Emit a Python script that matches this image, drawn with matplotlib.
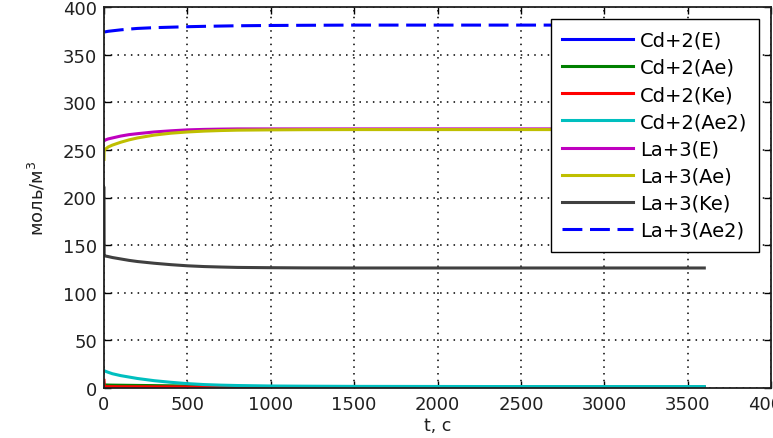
import matplotlib
matplotlib.use("Agg")
import matplotlib.pyplot as plt
import numpy as np

plt.rcParams['font.family'] = ['DejaVu Sans']

# time samples (s)
t = [0, 1, 10, 25, 50, 100, 150, 200, 300, 400, 500, 600, 700, 800, 1000, 1200, 1500, 2000, 2500, 3000, 3600]

cd_E   = [0.3, 0.3, 0.3, 0.3, 0.3, 0.3, 0.3, 0.3, 0.3, 0.3, 0.3, 0.3, 0.3, 0.3, 0.3, 0.3, 0.3, 0.3, 0.3, 0.3, 0.3]
cd_Ae  = [3.5, 3.3, 3.2, 3.1, 3.0, 2.9, 2.8, 2.7, 2.5, 2.3, 2.1, 1.9, 1.7, 1.5, 1.3, 1.1, 1.0, 1.0, 1.0, 1.0, 1.0]
cd_Ke  = [8.0, 1.5, 1.4, 1.4, 1.4, 1.3, 1.3, 1.3, 1.2, 1.2, 1.1, 1.0, 1.0, 0.9, 0.9, 0.8, 0.8, 0.8, 0.8, 0.8, 0.8]
cd_Ae2 = [18.2, 18.0, 17.5, 16.5, 15.0, 13.0, 11.5, 10.0, 7.7, 6.0, 4.6, 3.6, 3.0, 2.6, 2.1, 1.9, 1.7, 1.6, 1.5, 1.5, 1.5]
la_E   = [259.6, 260.0, 260.5, 261.5, 262.5, 264.5, 266.0, 267.0, 268.8, 270.0, 271.0, 271.5, 271.8, 272.0, 272.0, 272.0, 272.0, 272.0, 272.0, 272.0, 272.0]
la_Ae  = [240.0, 249.5, 251.0, 253.0, 255.0, 258.0, 260.5, 262.5, 265.5, 267.5, 268.8, 269.7, 270.3, 270.7, 271.0, 271.2, 271.3, 271.3, 271.3, 271.3, 271.3]
la_Ke  = [210.0, 139.0, 138.5, 138.0, 137.0, 135.5, 134.0, 132.8, 131.0, 129.5, 128.3, 127.5, 127.0, 126.6, 126.3, 126.1, 126.0, 126.0, 126.0, 126.0, 126.0]
la_Ae2 = [373.5, 373.7, 374.0, 374.5, 375.0, 376.0, 376.8, 377.5, 378.3, 378.8, 379.3, 379.7, 380.0, 380.3, 380.6, 380.8, 381.0, 381.0, 381.0, 381.0, 381.0]

labels = ['Cd+2(E)', 'Cd+2(Ae)', 'Cd+2(Ke)', 'Cd+2(Ae2)',
          'La+3(E)', 'La+3(Ae)', 'La+3(Ke)', 'La+3(Ae2)']
series = [cd_E, cd_Ae, cd_Ke, cd_Ae2, la_E, la_Ae, la_Ke, la_Ae2]
colors = ['#0000ff', '#008000', '#ff0000', '#00bfbf',
          '#bf00bf', '#bfbf00', '#404040', '#0000ff']

xticks = [0, 500, 1000, 1500, 2000, 2500, 3000, 3500, 4000]
yticks = [0, 50, 100, 150, 200, 250, 300, 350, 400]

W, H = 773, 439
fig = plt.figure(figsize=(W / 100, H / 100), dpi=100)
ax = fig.add_axes([104 / W, (H - 389) / H, (771 - 104) / W, (389 - 8) / H])

for i, (y, lab, c) in enumerate(zip(series, labels, colors)):
    if lab == 'La+3(Ae2)':
        ax.plot(t, y, color=c, lw=2.2, linestyle=(0, (6.5, 2.5)), label=lab)
    else:
        ax.plot(t, y, color=c, lw=2.2, label=lab)

ax.set_xlim(0, 4000)
ax.set_ylim(0, 400)
ax.set_xticks(xticks)
ax.set_yticks(yticks)
ax.set_xticklabels([str(v) for v in xticks], fontsize=13, color='#202020')
ax.set_yticklabels([str(v) for v in yticks], fontsize=13, color='#202020')
ax.tick_params(direction='in', top=True, right=True, length=5, width=1, pad=5)
ax.grid(True, color='black', linestyle=(0, (1, 3.4)), linewidth=1.1)
for s in ax.spines.values():
    s.set_linewidth(1.3)
    s.set_color('#202020')

ax.set_xlabel('t, c', fontsize=12.5, color='#202020', labelpad=2)
ax.set_ylabel('моль/м$^3$', fontsize=13, color='#202020', labelpad=11)

leg = ax.legend(loc='upper right', bbox_to_anchor=(0.982, 0.9685), borderaxespad=0,
                fontsize=14, handlelength=3.65, handletextpad=0.35, labelspacing=0.42,
                fancybox=False, framealpha=1, edgecolor='black', borderpad=0.6)
leg.get_frame().set_linewidth(1.0)

fig.savefig('out.png', dpi=100)
